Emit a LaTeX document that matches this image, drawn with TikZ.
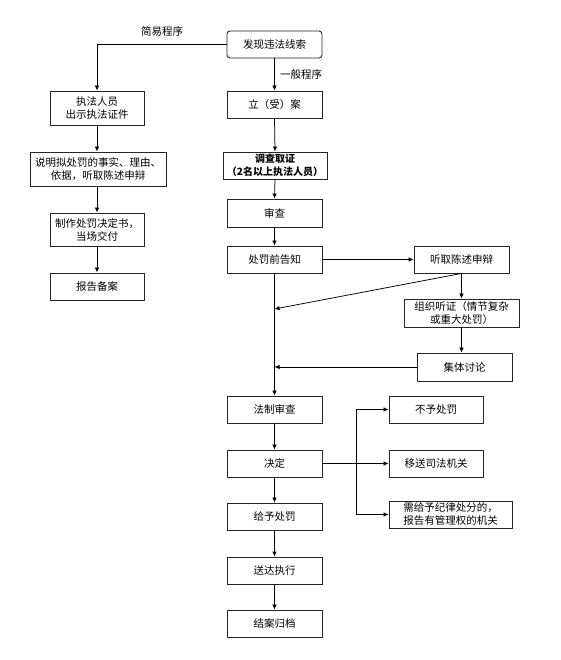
\documentclass[tikz,border=0pt]{standalone}
\usepackage{fontspec}
\setmainfont{Noto Sans CJK SC}
\usetikzlibrary{arrows.meta}
\tikzset{
  bx/.style={draw=black!85, line width=0.9pt, fill=white, minimum width=95pt, minimum height=27pt, inner sep=1pt, align=center, font=\fontsize{10.5}{13}\selectfont},
  ar/.style={line width=0.75pt, -{Latex[length=5pt,width=4.5pt]}},
  ln/.style={line width=0.75pt},
  lbl/.style={font=\fontsize{10.5}{13}\selectfont, inner sep=1pt}
}
\begin{document}
\begin{tikzpicture}[x=1pt,y=-1pt]
\useasboundingbox (0,0) rectangle (561,660);
% right column
\node[bx, rounded corners=3pt] (find) at (274.5,44.5) {发现违法线索};
\node[bx] (lian) at (274.5,104.5) {立（受）案};
\node[bx, minimum width=104pt, font=\fontsize{10}{12.5}\selectfont\bfseries] (dc) at (275,165.5) {调查取证\\（2名以上执法人员）};
\node[bx, minimum height=28pt] (sc) at (274.5,213) {审查};
\node[bx] (gz) at (274.5,259.5) {处罚前告知};
\node[bx] (tq) at (461.5,259.5) {听取陈述申辩};
\node[bx, minimum width=115pt, minimum height=28pt] (zt) at (461.5,313) {组织听证（情节复杂\\或重大处罚）};
\node[bx, minimum height=28pt] (jt) at (464.5,367) {集体讨论};
\node[bx] (fz) at (274.5,409.5) {法制审查};
\node[bx] (jd) at (274.5,463.5) {决定};
\node[bx] (gy) at (274.5,516.5) {给予处罚};
\node[bx] (sd) at (274.5,570.5) {送达执行};
\node[bx] (ja) at (274.5,623.5) {结案归档};
\node[bx, minimum width=94pt] (by) at (436,409.5) {不予处罚};
\node[bx, minimum width=94pt] (ys) at (436,463.5) {移送司法机关};
\node[bx, minimum width=123pt, align=left] (xg) at (450.5,514.5) {需给予纪律处分的，\\报告有管理权的机关};
% left column
\node[bx, minimum width=94pt, minimum height=34pt] (zf) at (97,108) {执法人员\\出示执法证件};
\node[bx, minimum width=136pt, minimum height=34pt] (sm) at (98,169) {说明拟处罚的事实、理由、\\依据，听取陈述申辩};
\node[bx, minimum width=94pt, minimum height=33pt] (zz) at (97,229.5) {制作处罚决定书，\\当场交付};
\node[bx, minimum width=94pt] (bg) at (97,286.5) {报告备案};
% labels
\node[lbl] (l1) at (162,32) {简易程序};
\node[lbl, anchor=west] (l2) at (279,75) {一般程序};
% coordinates
\coordinate (c1) at (97,44.5);
\coordinate (m1) at (274.5,309);
\coordinate (m2) at (274.5,367);
\coordinate (b) at (356,463.5);
% connectors
\draw[ar] (find.west) -- (c1) -- (zf.north);
\draw[ar] (find.south) -- (lian.north);
\draw[ar] (lian.south) -- (dc.north);
\draw[ar] (dc.south) -- (sc.north);
\draw[ar] (sc.south) -- (gz.north);
\draw[ar] (gz.east) -- (tq.west);
\draw[ar] (tq.south) -- (zt.north);
\draw[ar] (zt.south) -- (zt.south |- jt.north);
\draw[ar] (tq.south) -- (m1);
\draw[ar] (jt.west) -- (m2);
\draw[ar] (gz.south) -- (fz.north);
\draw[ar] (fz.south) -- (jd.north);
\draw[ar] (jd.south) -- (gy.north);
\draw[ar] (gy.south) -- (sd.north);
\draw[ar] (sd.south) -- (ja.north);
\draw[ar] (jd.east) -- (ys.west);
\draw[ar] (b) |- (by.west);
\draw[ar] (b) |- (xg.west);
\draw[ar] (zf.south) -- (sm.north -| zf.south);
\draw[ar] (sm.south -| zz.north) -- (zz.north);
\draw[ar] (zz.south) -- (bg.north);
\end{tikzpicture}
\end{document}
